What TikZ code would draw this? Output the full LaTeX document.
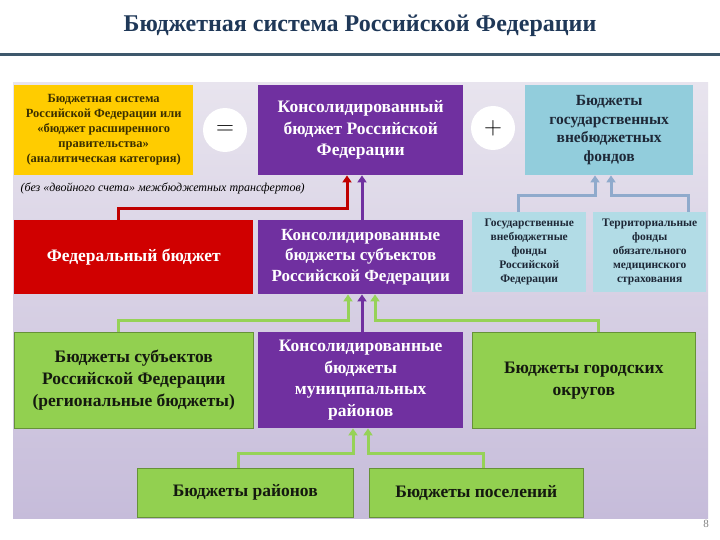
\documentclass[tikz,border=0pt]{standalone}
\usepackage{fontspec}
\setmainfont{Liberation Serif}
\usetikzlibrary{arrows.meta}
\definecolor{titlecol}{RGB}{31,56,88}
\definecolor{rulecol}{RGB}{62,88,108}
\definecolor{bgtop}{RGB}{232,228,238}
\definecolor{bgbot}{RGB}{198,188,218}
\definecolor{byellow}{RGB}{255,204,0}
\definecolor{bpurple}{RGB}{112,48,160}
\definecolor{bblue}{RGB}{146,205,220}
\definecolor{blightblue}{RGB}{178,220,230}
\definecolor{bred}{RGB}{208,0,0}
\definecolor{bgreen}{RGB}{146,208,80}
\definecolor{redarr}{RGB}{192,0,0}
\definecolor{bluearr}{RGB}{143,170,204}
\definecolor{greenarr}{RGB}{150,210,88}
\tikzset{
  blk/.style={anchor=north west, align=center, inner sep=2pt},
  yelbox/.style={blk, fill=byellow, text={rgb,255:red,60;green,48;blue,0},
                 font=\bfseries\fontsize{12.5}{15}\selectfont},
  purpbox/.style={blk, fill=bpurple, text=white,
                  font=\bfseries\fontsize{17.5}{21.5}\selectfont},
  bluebox/.style={blk, fill=bblue, text={rgb,255:red,30;green,40;blue,55},
                  font=\bfseries\fontsize{15.5}{18.5}\selectfont},
  smallblue/.style={blk, fill=blightblue, text={rgb,255:red,30;green,40;blue,55},
                    font=\bfseries\fontsize{11.5}{14}\selectfont},
  redbox/.style={blk, fill=bred, text=white, font=\bfseries\fontsize{17.5}{20}\selectfont},
  grnbox/.style={blk, fill=bgreen, draw=bgreen!70!black, line width=0.6pt,
                 text={rgb,255:red,20;green,25;blue,15},
                 font=\bfseries\fontsize{17.5}{22}\selectfont},
  sign/.style={circle, fill=white, minimum size=44pt, inner sep=0pt,
               font=\fontsize{38}{38}\selectfont},
  conn/.style={line width=3pt, -{Triangle[length=7pt,width=9pt]}}
}
\begin{document}
\begin{tikzpicture}[x=1pt,y=-1pt]
  \useasboundingbox (0,0) rectangle (720,540);
  \fill[white] (0,0) rectangle (720,540);
  % title and rule
  \node[font=\bfseries\fontsize{24}{28}\selectfont, text=titlecol] (title) at (360,26)
    {Бюджетная система Российской Федерации};
  \draw[rulecol, line width=3pt] (0,55) -- (720,55);
  % background panel
  \shade[top color=bgtop, bottom color=bgbot] (13,83) rectangle (708,518);

  % top row
  \node[yelbox, minimum width=179pt, minimum height=90pt] (ext) at (14,85)
    {Бюджетная система\\Российской Федерации или\\«бюджет расширенного\\правительства»\\(аналитическая категория)};
  \node[sign] (eq) at (225,130) {$=$};
  \node[purpbox, minimum width=205pt, minimum height=90pt] (cons) at (258,85)
    {Консолидированный\\бюджет Российской\\Федерации};
  \node[sign] (plus) at (493,128) {$+$};
  \node[bluebox, minimum width=168pt, minimum height=90pt] (funds) at (525,85)
    {Бюджеты\\государственных\\внебюджетных\\фондов};
  \node[anchor=west, font=\itshape\fontsize{12}{14}\selectfont] (note) at (17,188)
    {(без «двойного счета» межбюджетных трансфертов)};

  % second row
  \node[redbox, minimum width=239pt, minimum height=74pt] (fed) at (14,220)
    {Федеральный бюджет};
  \node[purpbox, minimum width=205pt, minimum height=74pt, font=\bfseries\fontsize{17}{20.5}\selectfont] (subj) at (258,220)
    {Консолидированные\\бюджеты субъектов\\Российской Федерации};
  \node[smallblue, minimum width=114pt, minimum height=80pt] (gvf) at (472,212)
    {Государственные\\внебюджетные\\фонды\\Российской\\Федерации};
  \node[smallblue, minimum width=113pt, minimum height=80pt] (tfoms) at (593,212)
    {Территориальные\\фонды\\обязательного\\медицинского\\страхования};

  % third row
  \node[grnbox, minimum width=239pt, minimum height=96pt] (reg) at (14,332)
    {Бюджеты субъектов\\Российской Федерации\\(региональные бюджеты)};
  \node[purpbox, minimum width=205pt, minimum height=96pt] (mun) at (258,332)
    {Консолидированные\\бюджеты\\муниципальных\\районов};
  \node[grnbox, minimum width=223pt, minimum height=96pt] (city) at (472,332)
    {Бюджеты городских\\округов};

  % fourth row
  \node[grnbox, minimum width=216pt, minimum height=49pt] (dist) at (137,468)
    {Бюджеты районов};
  \node[grnbox, minimum width=214pt, minimum height=49pt] (sett) at (369,468)
    {Бюджеты поселений};

  \node[text=gray, font=\fontsize{11}{11}\selectfont] (pg) at (706,524) {8};

  % connectors
  \draw[conn, redarr] ([xshift=104pt]fed.north west) |- ([xshift=89pt,yshift=-33pt]cons.south west)
    -- ([xshift=89pt]cons.south west);
  \draw[conn, bpurple] ([xshift=104pt]subj.north west) -- ([xshift=104pt]cons.south west);
  \draw[conn, bluearr] ([xshift=46pt]gvf.north west) |- ([xshift=70pt,yshift=-20pt]funds.south west)
    -- ([xshift=70pt]funds.south west);
  \draw[conn, bluearr] ([xshift=95pt]tfoms.north west) |- ([xshift=86pt,yshift=-20pt]funds.south west)
    -- ([xshift=86pt]funds.south west);
  \draw[conn, greenarr] ([xshift=104pt]reg.north west) |- ([xshift=90pt,yshift=-26pt]subj.south west)
    -- ([xshift=90pt]subj.south west);
  \draw[conn, bpurple] ([xshift=104pt]mun.north west) -- ([xshift=104pt]subj.south west);
  \draw[conn, greenarr] ([xshift=126pt]city.north west) |- ([xshift=117pt,yshift=-26pt]subj.south west)
    -- ([xshift=117pt]subj.south west);
  \draw[conn, greenarr] ([xshift=101pt]dist.north west) |- ([xshift=95pt,yshift=-25pt]mun.south west)
    -- ([xshift=95pt]mun.south west);
  \draw[conn, greenarr] ([xshift=114pt]sett.north west) |- ([xshift=110pt,yshift=-25pt]mun.south west)
    -- ([xshift=110pt]mun.south west);
\end{tikzpicture}
\end{document}
